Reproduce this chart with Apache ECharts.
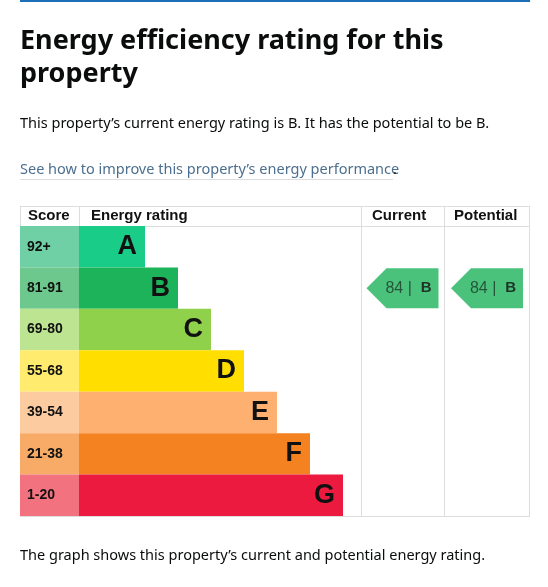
<!DOCTYPE html>
<html><head><meta charset="utf-8">
<script src="https://cdn.jsdelivr.net/npm/echarts@6/dist/echarts.min.js"></script>
<style>html,body{margin:0;padding:0;background:#fff}#c{width:548px;height:587px}</style>
</head><body><div id="c"></div>
<script>
var bands = ['A', 'B', 'C', 'D', 'E', 'F', 'G'];
var scores = ['92+', '81-91', '69-80', '55-68', '39-54', '21-38', '1-20'];
var barLengths = [2, 3, 4, 5, 6, 7, 8];
var bandColors = ['#19cc88', '#1cb35b', '#8fd14a', '#ffde00', '#fdb070', '#f58220', '#ec1a3f'];
var scoreColors = ['#6fd0a6', '#6cc88c', '#bde591', '#ffec6e', '#fccb9f', '#f8ab66', '#f2727f'];
var currentScore = 84, currentBand = 'B';
var potentialScore = 84, potentialBand = 'B';

var chart = echarts.init(document.getElementById('c'));
var font = 'Liberation Sans, Arial, sans-serif';
var gds = 'Noto Sans, Liberation Sans, sans-serif';
var gridTop = 226, gridH = 290;
var arrowPath = 'path://M0,20 L20,0 L72,0 L72,40 L20,40 Z';

function yAx(i) {
  return { type: 'category', gridIndex: i, data: bands, inverse: true, show: false };
}
function arrowSeries(idx, score, band) {
  return {
    type: 'scatter', xAxisIndex: idx, yAxisIndex: idx,
    symbol: arrowPath, symbolSize: [72, 40],
    itemStyle: { color: '#1db35b' },
    data: [[0.5, band]],
    label: {
      show: true, position: 'inside', offset: [6, 0],
      formatter: '{n|' + score + ' |  }{b|' + band + '}',
      rich: {
        n: { fontFamily: font, fontSize: 16, color: '#1a3a26' },
        b: { fontFamily: font, fontSize: 15, fontWeight: 'bold', color: '#111' }
      }
    }
  };
}
function line(x1, y1, x2, y2) {
  return { type: 'line', shape: { x1: x1, y1: y1, x2: x2, y2: y2 }, style: { stroke: '#dddddd', lineWidth: 1 } };
}
function txt(x, y, s, size, weight, color, f) {
  return { type: 'text', x: x, y: y, style: { text: s, fontSize: size, fontWeight: weight || 'normal', fill: color || '#0b0c0c', fontFamily: f || gds, textVerticalAlign: 'middle' } };
}

chart.setOption({
  animation: false,
  grid: [
    { left: 20, width: 59, top: gridTop, height: gridH },
    { left: 79, width: 282, top: gridTop, height: gridH },
    { left: 361, width: 83, top: gridTop, height: gridH },
    { left: 444, width: 86, top: gridTop, height: gridH }
  ],
  xAxis: [
    { type: 'value', gridIndex: 0, min: 0, max: 1, show: false },
    { type: 'value', gridIndex: 1, min: 0, max: 282 / 33, show: false },
    { type: 'value', gridIndex: 2, min: 0, max: 1, show: false },
    { type: 'value', gridIndex: 3, min: 0, max: 1, show: false }
  ],
  yAxis: [yAx(0), yAx(1), yAx(2), yAx(3)],
  series: [
    {
      type: 'bar', xAxisIndex: 0, yAxisIndex: 0, barWidth: '100%',
      data: scores.map(function (s, i) { return { value: 1, itemStyle: { color: scoreColors[i] }, label: { formatter: s } }; }),
      label: { show: true, position: 'insideLeft', distance: 7, fontFamily: font, fontSize: 14, fontWeight: 'bold', color: '#111' }
    },
    {
      type: 'bar', xAxisIndex: 1, yAxisIndex: 1, barWidth: '100%',
      data: barLengths.map(function (v, i) { return { value: v, itemStyle: { color: bandColors[i] } }; }),
      label: { show: true, position: 'insideRight', distance: 8, formatter: '{b}', fontFamily: font, fontSize: 27, fontWeight: 'bold', color: '#111' }
    },
    arrowSeries(2, currentScore, currentBand),
    arrowSeries(3, potentialScore, potentialBand)
  ],
  graphic: [
    { type: 'rect', shape: { x: 20, y: 0, width: 510, height: 2 }, style: { fill: '#1d70b8' } },
    txt(20, 41, 'Energy efficiency rating for this', 27, 'bold'),
    txt(20, 74, 'property', 27, 'bold'),
    txt(20, 124, 'This property\u2019s current energy rating is B. It has the potential to be B.', 14.5),
    txt(20, 170, 'See how to improve this property\u2019s energy performance', 14.5, 'normal', '#4c6f8f'),
    txt(393, 170, '.', 14.5),
    line(20, 179.5, 393, 179.5),
    txt(20, 556, 'The graph shows this property\u2019s current and potential energy rating.', 14.5),
    line(20, 206.5, 530, 206.5),
    line(20, 226.5, 530, 226.5),
    line(20, 516.5, 530, 516.5),
    line(20.5, 206, 20.5, 517),
    line(79.5, 206, 79.5, 226),
    line(361.5, 206, 361.5, 517),
    line(444.5, 206, 444.5, 517),
    line(529.5, 206, 529.5, 517),
    txt(28, 216, 'Score', 15, 'bold', '#111', font),
    txt(91, 216, 'Energy rating', 15, 'bold', '#111', font),
    txt(372, 216, 'Current', 15, 'bold', '#111', font),
    txt(454, 216, 'Potential', 15, 'bold', '#111', font)
  ]
});
</script></body></html>
